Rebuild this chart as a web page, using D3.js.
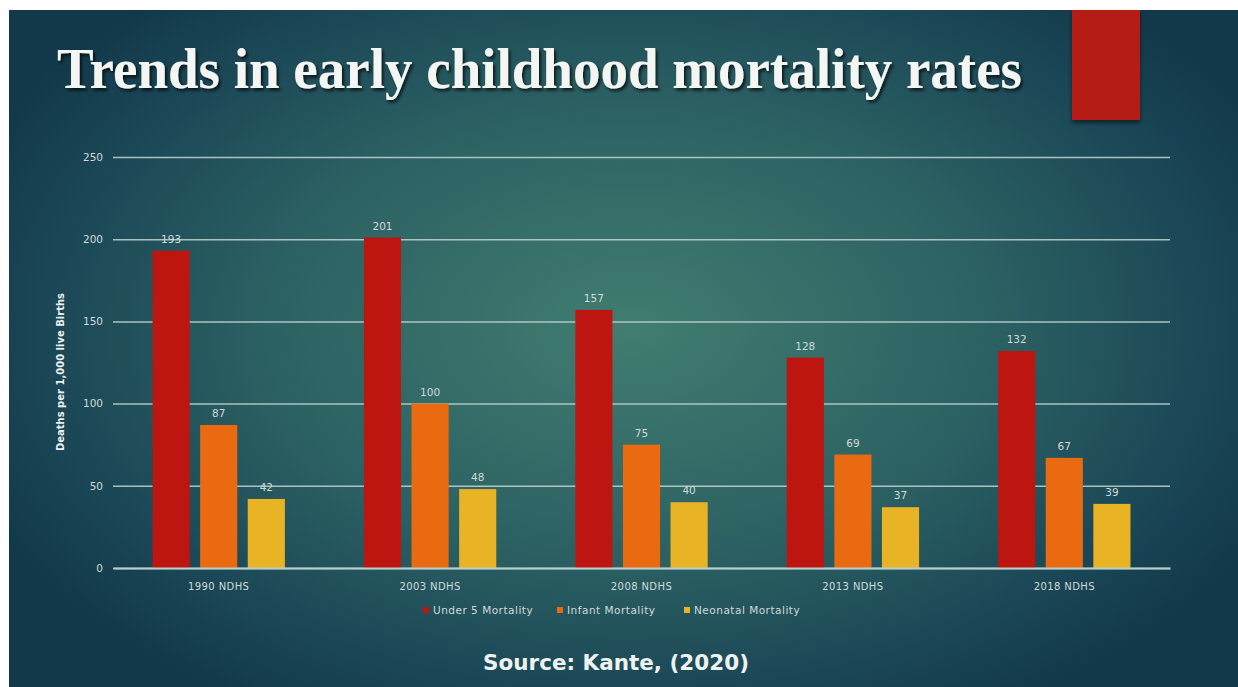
<!DOCTYPE html>
<html>
<head>
<meta charset="utf-8">
<script src="https://cdn.jsdelivr.net/npm/d3@7"></script>
<style>
  html, body { margin: 0; padding: 0; background: #ffffff; }
  svg { display: block; }
</style>
</head>
<body>
<svg id="chart" width="1238" height="687"></svg>
<script>
// Survey rounds and mortality rates (deaths per 1,000 live births)
const categories = ["1990 NDHS", "2003 NDHS", "2008 NDHS", "2013 NDHS", "2018 NDHS"];
const seriesNames = ["Under 5 Mortality", "Infant Mortality", "Neonatal Mortality"];
const under5 = [193, 201, 157, 128, 132];
const infant = [87, 100, 75, 69, 67];
const neonatal = [42, 48, 40, 37, 39];
const yTicks = [0, 50, 100, 150, 200, 250];

const seriesValues = [under5, infant, neonatal];
const colors = ["#bd1611", "#ea6a12", "#e8b324"];

const svg = d3.select("#chart");
const W = 1238, H = 687;

// Slide background
const defs = svg.append("defs");
const grad = defs.append("radialGradient")
  .attr("id", "bg")
  .attr("gradientUnits", "userSpaceOnUse")
  .attr("cx", 630).attr("cy", 330).attr("r", 720)
  .attr("gradientTransform", "translate(630,330) scale(1,0.62) translate(-630,-330)");
grad.append("stop").attr("offset", 0).attr("stop-color", "#417d70");
grad.append("stop").attr("offset", 0.5).attr("stop-color", "#2c6163");
grad.append("stop").attr("offset", 0.82).attr("stop-color", "#1a4656");
grad.append("stop").attr("offset", 1).attr("stop-color", "#123849");

const shadow = defs.append("filter").attr("id", "shadow")
  .attr("x", "-5%").attr("y", "-20%").attr("width", "110%").attr("height", "140%");
shadow.append("feDropShadow").attr("dx", 2).attr("dy", 2.5)
  .attr("stdDeviation", 1.6).attr("flood-color", "#000").attr("flood-opacity", 0.7);

const boxShadow = defs.append("filter").attr("id", "boxShadow")
  .attr("x", "-20%").attr("y", "-10%").attr("width", "140%").attr("height", "125%");
boxShadow.append("feDropShadow").attr("dx", 0).attr("dy", 3)
  .attr("stdDeviation", 2).attr("flood-color", "#000").attr("flood-opacity", 0.5);

svg.append("rect").attr("x", 9).attr("y", 10).attr("width", W - 9).attr("height", H - 10)
  .attr("fill", "url(#bg)");

// Accent block at top right
svg.append("rect").attr("x", 1072).attr("y", 10).attr("width", 68).attr("height", 110)
  .attr("fill", "#b51a17").attr("filter", "url(#boxShadow)");

// Title
svg.append("text")
  .attr("x", 57).attr("y", 88)
  .attr("font-family", "'Liberation Serif', 'DejaVu Serif', serif")
  .attr("font-weight", "bold")
  .attr("font-size", 56)
  .attr("fill", "#f4f6f4")
  .attr("textLength", 965)
  .attr("lengthAdjust", "spacingAndGlyphs")
  .attr("filter", "url(#shadow)")
  .text("Trends in early childhood mortality rates");

// Scales
const margin = { left: 113, right: 1170, top: 157, bottom: 568 };
const x0 = d3.scaleBand().domain(categories).range([margin.left, margin.right]).paddingInner(0).paddingOuter(0);
const x1 = d3.scaleBand().domain(seriesNames).range([0, x0.bandwidth()]).paddingInner(0.22).paddingOuter(0.83);
const y = d3.scaleLinear().domain([0, 250]).range([margin.bottom, margin.top]);

const axisFont = "'DejaVu Sans', 'Open Sans', sans-serif";
const textColor = "#d0dad9";

// Gridlines via axis
const yAxis = d3.axisLeft(y).tickValues(yTicks).tickSize(-(margin.right - margin.left)).tickPadding(10);
const gy = svg.append("g").attr("transform", `translate(${margin.left},0)`).call(yAxis);
gy.select(".domain").remove();
gy.selectAll(".tick line").attr("stroke", "#b9cfcc").attr("stroke-width", 1.5).attr("opacity", 0.9);
gy.selectAll(".tick text").attr("fill", textColor).attr("font-size", 10.5).attr("font-family", axisFont);

// Bars
const groups = svg.append("g").selectAll("g")
  .data(categories)
  .join("g")
  .attr("transform", d => `translate(${x0(d)},0)`);

groups.selectAll("rect")
  .data((d, i) => seriesNames.map((s, j) => ({ s, v: seriesValues[j][i], c: colors[j] })))
  .join("rect")
  .attr("x", d => x1(d.s))
  .attr("y", d => y(d.v))
  .attr("width", x1.bandwidth())
  .attr("height", d => y(0) - y(d.v))
  .attr("fill", d => d.c);

groups.selectAll("text")
  .data((d, i) => seriesNames.map((s, j) => ({ s, v: seriesValues[j][i] })))
  .join("text")
  .attr("x", d => x1(d.s) + x1.bandwidth() / 2)
  .attr("y", d => y(d.v) - 8)
  .attr("text-anchor", "middle")
  .attr("font-family", axisFont)
  .attr("font-size", 10.5)
  .attr("fill", textColor)
  .text(d => d.v);

// Baseline and category axis
const xAxis = d3.axisBottom(x0).tickSize(0).tickPadding(15);
const gx = svg.append("g").attr("transform", `translate(0,${margin.bottom})`).call(xAxis);
gx.select(".domain").attr("stroke", "#b9cfcc").attr("stroke-width", 2);
gx.selectAll(".tick text").attr("fill", textColor).attr("font-size", 10)
  .attr("letter-spacing", 0.4).attr("font-family", axisFont);

// Y axis title
svg.append("text")
  .attr("transform", `translate(64,372) rotate(-90)`)
  .attr("text-anchor", "middle")
  .attr("font-family", axisFont)
  .attr("font-weight", "bold")
  .attr("font-size", 10)
  .attr("fill", "#eef2f0")
  .text("Deaths per 1,000 live Births");

// Legend
const legendX = [426, 560, 687];
const legend = svg.append("g").selectAll("g")
  .data(seriesNames)
  .join("g")
  .attr("transform", (d, i) => `translate(${legendX[i]},614)`);
legend.append("rect").attr("x", -3).attr("y", -7).attr("width", 6).attr("height", 6)
  .attr("fill", (d, i) => colors[i]);
legend.append("text").attr("x", 7).attr("y", 0)
  .attr("font-family", axisFont).attr("font-size", 10.5)
  .attr("letter-spacing", 0.5)
  .attr("fill", textColor)
  .text(d => d);

// Source note
svg.append("text")
  .attr("x", 616).attr("y", 670)
  .attr("text-anchor", "middle")
  .attr("font-family", axisFont)
  .attr("font-weight", "bold")
  .attr("font-size", 21)
  .attr("fill", "#eef2f0")
  .attr("textLength", 266)
  .attr("lengthAdjust", "spacingAndGlyphs")
  .text("Source: Kante, (2020)");
</script>
</body>
</html>
